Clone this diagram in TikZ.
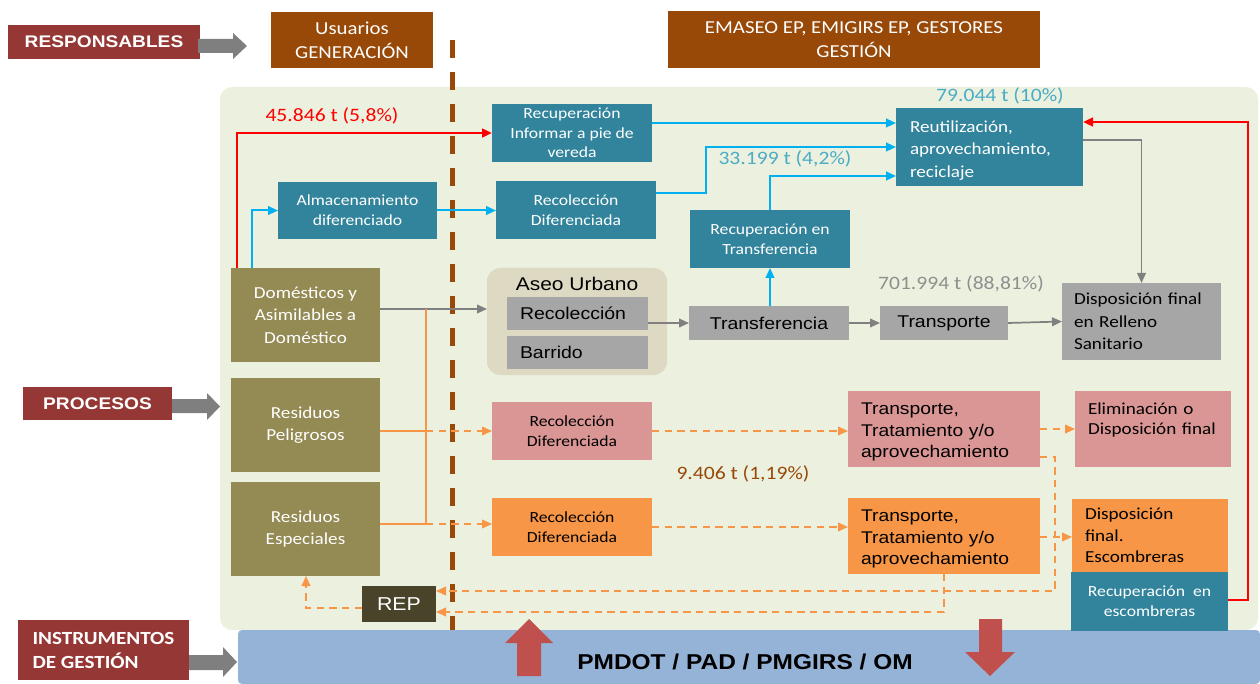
\documentclass[tikz,border=0pt]{standalone}
\usepackage{fontspec}
\setmainfont{Carlito}[FakeStretch=1.14]
\newfontfamily\arialf{Liberation Sans}[FakeStretch=1.14]
\usetikzlibrary{arrows.meta}
\definecolor{cBg}{HTML}{EBF1DE}
\definecolor{cBar}{HTML}{95B3D7}
\definecolor{cDRed}{HTML}{953735}
\definecolor{cBrown}{HTML}{984807}
\definecolor{cOlive}{HTML}{948A54}
\definecolor{cTeal}{HTML}{31849B}
\definecolor{cGray}{HTML}{A6A6A6}
\definecolor{cAseo}{HTML}{DDD9C3}
\definecolor{cPink}{HTML}{D99694}
\definecolor{cOrange}{HTML}{F79646}
\definecolor{cRep}{HTML}{494429}
\definecolor{cBigRed}{HTML}{C0504D}
\definecolor{cLBlue}{HTML}{00B0F0}
\definecolor{cLGray}{HTML}{808080}
\definecolor{cArrGray}{HTML}{7F7F7F}
\definecolor{cAmtBlue}{HTML}{4BACC6}
\definecolor{cAmtGray}{HTML}{8F8F8F}
\newcommand\fBig{\fontsize{12.6}{17}\selectfont}
\newcommand\fHead{\fontsize{13.7}{18}\selectfont}
\newcommand\fMid{\fontsize{11.6}{14.8}\selectfont}
\newcommand\fAmt{\fontsize{14.2}{17}\selectfont}
\newcommand\fA{\arialf\fontsize{12.8}{15}\selectfont}
\newcommand\fAseo{\arialf\fontsize{13.8}{16}\selectfont}
\newcommand\fTT{\arialf\fontsize{12.7}{16.1}\selectfont}
\newcommand\fRep{\arialf\fontsize{14}{16}\selectfont}
\newcommand\fPM{\arialf\bfseries\fontsize{16.1}{19}\selectfont}
\newcommand\fResp{\arialf\bfseries\fontsize{12.6}{15}\selectfont}
\newcommand\fInst{\bfseries\fontsize{13.9}{18}\selectfont}
\newcommand\dn[1]{\rule{0pt}{#1}}
\newcommand\bx[7]{\node[#2, minimum width={(#5-#3)*0.75pt}, minimum height={(#6-#4)*0.75pt}] (#1) at ({(#3+#5)/2},{(#4+#6)/2}) {#7};}
\begin{document}
\begin{tikzpicture}[x=0.75pt,y=-0.75pt,
  bxs/.style={inner sep=0pt, outer sep=0pt, align=center},
  redb/.style={bxs, fill=cDRed, text=white, font=\fResp},
  brn/.style={bxs, fill=cBrown, text=white, font=\fHead},
  olv/.style={bxs, fill=cOlive, text=white, font=\fBig},
  tel/.style={bxs, fill=cTeal, text=white, font=\fMid},
  gry/.style={bxs, fill=cGray, text=black, font=\fA},
  pnk/.style={bxs, fill=cPink, text=black},
  org/.style={bxs, fill=cOrange, text=black},
  repS/.style={bxs, fill=cRep, text=white, font=\fRep},
  aseoS/.style={bxs, fill=cAseo, rounded corners=10pt},
  ar/.style={-{Triangle[length=7.5pt,width=6.5pt]}},
  lb/.style={draw=cLBlue, line width=1.5pt, ar},
  lr/.style={draw=red, line width=1.8pt, ar},
  lg/.style={draw=cLGray, line width=1.3pt, ar},
  lo/.style={draw=cOrange, line width=1.3pt},
  ld/.style={lo, dash pattern=on 5.5pt off 4pt, ar},
  amt/.style={font=\fAmt, inner sep=0pt}
]
\useasboundingbox (0,0) rectangle (1260,684);
% background panels
\fill[cBg, rounded corners=9pt] (220,87) rectangle (1258,630);
\fill[cBar, rounded corners=3pt] (238,630) rectangle (1260,684);
\draw[cBrown, line width=3.75pt, dash pattern=on 13.5pt off 10.5pt] (452.5,40) -- (452.5,630);

% side labels and arrows
\bx{resp}{redb}{8}{25}{200}{59}{RESPONSABLES}
\bx{proc}{redb}{23}{387}{172}{420}{PROCESOS}
\bx{inst}{redb, font=\fInst, align=left}{18}{620}{189}{680}{INSTRUMENTOS\\DE GESTIÓN}
\fill[cArrGray] (198,39) -- (233,39) -- (233,33) -- (247,46) -- (233,59) -- (233,53) -- (198,53) -- cycle;
\fill[cArrGray] (172,399) -- (207,399) -- (207,393) -- (220,406.5) -- (207,420) -- (207,413) -- (172,413) -- cycle;
\fill[cArrGray] (189,655) -- (223,655) -- (223,647) -- (237,662) -- (223,677) -- (223,670) -- (189,670) -- cycle;

% headers
\bx{usu}{brn}{271}{12}{433}{68}{Usuarios\\GENERACIÓN}
\bx{ema}{brn}{668}{11}{1040}{68}{EMASEO EP, EMIGIRS EP, GESTORES\\GESTIÓN}

% generation
\bx{dom}{olv}{231}{268}{380}{362}{Domésticos y\\Asimilables a\\Doméstico}
\bx{pel}{olv}{231}{378}{380}{472}{Residuos\\Peligrosos}
\bx{esp}{olv}{231}{482}{380}{576}{Residuos\\Especiales}

% teal path
\bx{alm}{tel}{278}{182}{437}{239}{Almacenamiento\\diferenciado}
\bx{recinf}{tel}{492}{104}{652}{162}{Recuperación\\Informar a pie de\\vereda}
\bx{recT}{tel}{496}{181}{656}{239}{Recolección\\Diferenciada}
\bx{reut}{tel, font=\fBig, align=left, text width=119.25pt}{896}{108}{1083}{186}{\dn{14pt}Reutilización,\\aprovechamiento,\\reciclaje}
\bx{rtr}{tel}{690}{210}{850}{268}{Recuperación en\\Transferencia}

% aseo urbano
\bx{aseo}{aseoS}{487}{268}{667}{375}{}
\node[font=\fAseo, inner sep=0pt] (aseot) at (577,284) {Aseo Urbano};
\bx{recol}{gry, align=left, text width=86.25pt}{507}{297}{648}{330}{Recolección}
\bx{barr}{gry, align=left, text width=86.25pt}{507}{336}{648}{369}{Barrido}
\bx{transf}{gry}{689}{306}{849}{340}{Transferencia}
\bx{transp}{gry}{880}{306}{1008}{340}{Transporte}
\bx{disp}{gry, font=\fBig, align=left, text width=101.25pt}{1062}{283}{1221}{360}{Disposición~final\\en Relleno\\Sanitario}

% hazardous / special
\bx{rdp}{pnk, font=\fMid}{492}{402}{652}{460}{Recolección\\Diferenciada}
\bx{ttp}{pnk, font=\fTT, align=left, text width=124.5pt}{848}{391}{1040}{467}{\dn{13.7pt}Transporte,\\Tratamiento y/o\\aprovechamiento}
\bx{elim}{pnk, font={\fontsize{12.6}{15}\selectfont}, align=left, text width=97.5pt}{1075}{391}{1231}{467}{Eliminación o\\Disposición~final\\\mbox{}}
\bx{rdo}{org, font=\fMid}{492}{498}{652}{556}{Recolección\\Diferenciada}
\bx{tto}{org, font=\fTT, align=left, text width=124.5pt}{848}{498}{1040}{574}{\dn{13.7pt}Transporte,\\Tratamiento y/o\\aprovechamiento}
\bx{desc}{org, font={\fontsize{12.6}{16}\selectfont}, align=left, text width=97.5pt}{1072}{499}{1228}{572}{Disposición\\final.\\Escombreras}
\bx{recesc}{tel}{1071}{572}{1228}{631}{Recuperación~~en\\escombreras}
\bx{rep}{repS}{362}{586}{436}{622}{REP}

% amounts
\node[amt, text=red] (a1) at (332,116) {45.846 t (5,8\%)};
\node[amt, text=cAmtBlue] (a2) at (1000,96) {79.044 t (10\%)};
\node[amt, text=cAmtBlue] (a3) at (785,159) {33.199 t (4,2\%)};
\node[amt, text=cAmtGray] (a4) at (961,284) {701.994 t (88,81\%)};
\node[amt, text=cBrown] (a5) at (743,474) {9.406 t (1,19\%)};

% junction coordinates
\coordinate (j1) at (426,309);
\coordinate (j2) at (426,524);
\coordinate (k1) at (706,193);
\coordinate (k2) at (1055,457);
\coordinate (k3) at (1248,600);

% connectors
\draw[lr] (dom.north -| 237,0) |- (recinf.west);
\draw[lb] (dom.north -| 252,0) |- (alm.west);
\draw[lb] (alm.east) -- (recT.west |- alm.east);
\draw[lb] (recinf.east |- 0,123) -- (reut.west |- 0,123);
\draw[lb] (recT.east |- k1) -- (k1) |- (reut.west |- 0,147);
\draw[lb] (rtr.north) |- (reut.west |- 0,176);
\draw[lb] (transf.north -| rtr.north) -- (rtr.south);
\draw[lg] (reut.east |- 0,140) -| (disp.north);
\draw[lr] (recesc.east |- k3) -- (k3) |- (reut.east |- 0,122);
\draw[lg] (dom.east |- j1) -- (aseo.west |- j1);
\draw[lg] (recol.east |- transf.west) -- (transf.west);
\draw[lg] (transf.east) -- (transp.west);
\draw[lg] (transp.east) -- (disp.west);
\draw[lo] (j1) -- (j2);
\draw[lo] (pel.east |- rdp.west) -- (j1 |- rdp.west);
\draw[ld] (j1 |- rdp.west) -- (rdp.west);
\draw[lo] (esp.east |- j2) -- (j2);
\draw[ld] (j2) -- (rdo.west |- j2);
\draw[ld] (rdp.east) -- (ttp.west |- rdp.east);
\draw[ld] (rdo.east) -- (tto.west |- rdo.east);
\draw[ld] (ttp.east |- 0,429) -- (elim.west |- 0,429);
\draw[ld] (ttp.east |- k2) -- (k2) |- (rep.east |- 0,591);
\draw[ld] (tto.east |- 0,537) -- (desc.west |- 0,537);
\draw[ld] (tto.south) |- (rep.east |- 0,612);
\draw[ld] (rep.west |- 0,608) -| (esp.south -| 306,0);

% big arrows
\fill[cBigRed] (529,619) -- (553,643) -- (541,643) -- (541,676) -- (517,676) -- (517,643) -- (505,643) -- cycle;
\fill[cBigRed] (979,619) -- (1002,619) -- (1002,652) -- (1015,652) -- (990,676) -- (965,652) -- (979,652) -- cycle;
\node[font=\fPM, inner sep=0pt] (pm) at (745,662) {PMDOT / PAD / PMGIRS / OM};
\end{tikzpicture}
\end{document}
